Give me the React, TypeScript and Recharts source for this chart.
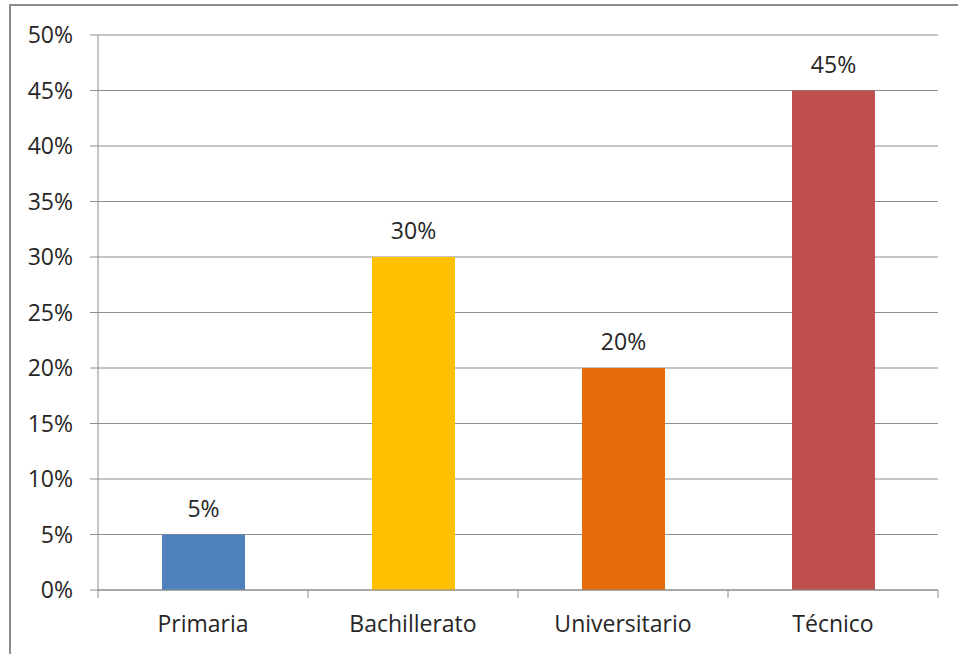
import { Bar, BarChart, CartesianGrid, Cell, LabelList, XAxis, YAxis } from "recharts"

const categories = ["Primaria", "Bachillerato", "Universitario", "Técnico"]
const values = [5, 30, 20, 45]
const colors = ["#4F81BD", "#FFC000", "#E46C0A", "#C0504D"]
const yTicks = [0, 5, 10, 15, 20, 25, 30, 35, 40, 45, 50]

const data = categories.map((name, i) => ({ name, value: values[i] }))

const W = 958
const H = 654
const left = 98
const right = 20
const band = (W - left - right) / categories.length
const axisColor = "#8c8c8c"
const textColor = "#262626"
const font = "'Open Sans', sans-serif"
const fontSize = 23

function CategoryTick(props: any) {
  const { x, y, payload, index } = props
  return (
    <g>
      <line x1={x - band / 2} y1={y} x2={x - band / 2} y2={y + 8} stroke={axisColor} />
      {index === categories.length - 1 && (
        <line x1={x + band / 2} y1={y} x2={x + band / 2} y2={y + 8} stroke={axisColor} />
      )}
      <text x={x} y={y + 42} textAnchor="middle" fill={textColor} fontSize={fontSize} fontFamily={font}>
        {payload.value}
      </text>
    </g>
  )
}

export default function App() {
  return (
    <div style={{ position: "absolute", left: 0, top: 0, width: W, height: H, overflow: "hidden", background: "#fff" }}>
      <div
        style={{
          position: "absolute",
          left: 9,
          top: 4,
          width: W + 20,
          height: H + 20,
          borderTop: `2px solid ${axisColor}`,
          borderLeft: `2px solid ${axisColor}`,
        }}
      />
      <div style={{ position: "absolute", left: 0, top: 0 }}>
        <BarChart width={W} height={H} data={data} margin={{ top: 35, right: right, bottom: 0, left: 0 }}>
          <CartesianGrid horizontal vertical={false} stroke={axisColor} />
          <XAxis
            dataKey="name"
            height={64}
            axisLine={{ stroke: axisColor }}
            tickLine={false}
            tickSize={0}
            tickMargin={0}
            tick={<CategoryTick />}
            interval={0}
          />
          <YAxis
            width={left}
            domain={[0, 50]}
            ticks={yTicks}
            interval={0}
            tickFormatter={(v) => `${v}%`}
            tickSize={8}
            tickMargin={17}
            axisLine={{ stroke: axisColor }}
            tickLine={{ stroke: axisColor }}
            tick={{ fill: textColor, fontSize: fontSize, fontFamily: font }}
          />
          <Bar dataKey="value" barSize={83} isAnimationActive={false}>
            {data.map((d, i) => (
              <Cell key={d.name} fill={colors[i]} />
            ))}
            <LabelList
              dataKey="value"
              position="top"
              offset={18}
              formatter={(v: any) => `${v}%`}
              fill={textColor}
              fontSize={fontSize}
              fontFamily={font}
            />
          </Bar>
        </BarChart>
      </div>
    </div>
  )
}
